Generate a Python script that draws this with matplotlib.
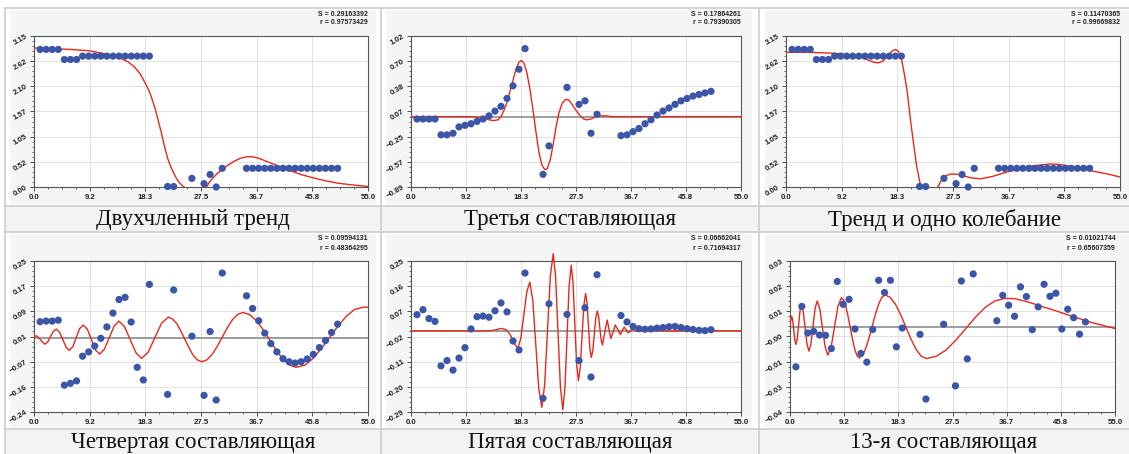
import numpy as np
import matplotlib
matplotlib.use('Agg')
import matplotlib.pyplot as plt
from matplotlib.patches import Rectangle
from matplotlib.lines import Line2D
from matplotlib.ticker import AutoMinorLocator

W, H = 1129, 454

# ---------------- data ----------------
x_obs = [1, 2, 3, 4, 5, 6, 7, 8, 9, 10, 11, 12, 13, 14, 15, 16, 17, 18, 19,
         22, 23, 26, 28, 29, 30, 31,
         35, 36, 37, 38, 39, 40, 41, 42, 43, 44, 45, 46, 47, 48, 49, 50]

trend_y = [2.87, 2.87, 2.87, 2.87, 2.66, 2.66, 2.66,
           2.73, 2.73, 2.73, 2.73, 2.73, 2.73, 2.73, 2.73, 2.73, 2.73, 2.73, 2.73,
           0.01, 0.01, 0.18, 0.07, 0.26, 0.00, 0.39,
           0.39, 0.39, 0.39, 0.39, 0.39, 0.39, 0.39, 0.39, 0.39, 0.39, 0.39, 0.39,
           0.39, 0.39, 0.39, 0.39]

third_y = [-0.03, -0.03, -0.03, -0.03, -0.23, -0.23, -0.21,
           -0.13, -0.11, -0.09, -0.06, -0.03, 0.01, 0.07, 0.13, 0.23, 0.39, 0.60, 0.86,
           -0.73, -0.37, 0.37, 0.155, 0.20, -0.21, 0.03,
           -0.24, -0.23, -0.19, -0.15, -0.09, -0.04, 0.02, 0.07, 0.11, 0.155, 0.20,
           0.23, 0.26, 0.28, 0.30, 0.32]

fourth_y = [0.053, 0.055, 0.055, 0.058, -0.153, -0.147, -0.139,
            -0.059, -0.045, -0.026, -0.001, 0.036, 0.081, 0.125, 0.132, 0.052,
            -0.095, -0.136, 0.174,
            -0.183, 0.156, 0.006, -0.186, 0.021, -0.201, 0.211,
            0.137, 0.096, 0.056, 0.016, -0.018, -0.045, -0.067, -0.077, -0.081,
            -0.077, -0.068, -0.053, -0.031, -0.008, 0.018, 0.045]

fifth_y = [0.058, 0.076, 0.044, 0.034, -0.125, -0.106, -0.140,
           -0.097, -0.060, 0.007, 0.051, 0.053, 0.049, 0.072, 0.100, 0.068,
           -0.036, -0.068, 0.207,
           -0.241, 0.097, 0.059, -0.106, 0.083, -0.165, 0.201,
           0.055, 0.032, 0.016, 0.008, 0.006, 0.007, 0.010, 0.012, 0.015, 0.016,
           0.012, 0.008, 0.005, 0.002, 0.001, 0.004]

thirteenth_y = [-0.0170, 0.0087, -0.0026, -0.0019, -0.0035, -0.0036, -0.0092,
                0.0193, 0.0096, 0.0117, -0.0009, -0.0113, -0.0150, -0.0011,
                0.0198, 0.0146, 0.0198, -0.0085, -0.0005,
                -0.0032, -0.0307, 0.0011, -0.0251, 0.0195, -0.0136, 0.0225,
                0.0026, 0.0134, 0.0092, 0.0045, 0.0170, 0.0129, -0.0012, 0.0085,
                0.0181, 0.0130, 0.0143, -0.0009, 0.0075, 0.0039, -0.0031, 0.0021]

# fitted curves
fit1_x = [0, 6, 9.2, 12, 14, 15.5, 16.5, 17.5, 18.3, 19, 19.5, 20, 20.5, 21, 21.5,
          22, 22.5, 23, 23.5, 24, 24.7, 25.5, 26.5, 27.5, 28.4, 29, 30, 31, 32,
          33, 34, 35, 36, 37, 38, 39, 40, 42, 44, 46, 48, 50, 52, 55]
fit1_y = [2.90, 2.87, 2.84, 2.77, 2.70, 2.61, 2.51, 2.36, 2.17, 1.99, 1.81, 1.61,
          1.36, 1.12, 0.84, 0.60, 0.43, 0.29, 0.17, 0.08, 0.0, -0.10, -0.15,
          -0.10, 0.0, 0.12, 0.26, 0.37, 0.46, 0.54, 0.60, 0.63, 0.63, 0.60,
          0.55, 0.50, 0.45, 0.35, 0.26, 0.19, 0.13, 0.08, 0.05, 0.01]

fit2_x = [0, 10, 11, 12, 13, 13.8, 14.5, 15, 15.5, 16, 16.5, 17, 17.5, 18, 18.4,
          18.8, 19.3, 19.8, 20.3, 20.8, 21.3, 21.8, 22.3, 22.7, 23.2, 23.7, 24.2,
          24.7, 25.2, 25.8, 26.3, 26.8, 27.5, 28.2, 28.8, 29.3, 30, 30.8, 31.5,
          32.5, 33.5, 55]
fit2_y = [0.0, 0.0, -0.005, -0.02, -0.04, -0.05, -0.04, 0.0, 0.08, 0.18, 0.32,
          0.46, 0.60, 0.69, 0.71, 0.68, 0.56, 0.36, 0.10, -0.18, -0.44, -0.61,
          -0.67, -0.66, -0.55, -0.35, -0.12, 0.06, 0.17, 0.22, 0.21, 0.16, 0.08,
          0.01, -0.03, -0.04, -0.03, 0.0, 0.01, 0.01, 0.0, 0.0]

fit3_x = [0, 3, 6, 9, 11, 12.5, 13.5, 14.5, 15.2, 16, 16.8, 17.5, 18, 18.5, 19,
          19.5, 20, 20.5, 21, 21.5, 22, 22.5, 23.5, 24.5, 25, 25.5, 26, 27, 28,
          29, 30.5, 32, 34, 36, 38, 40, 42, 43.5, 45, 47, 49, 51, 53, 55]
fit3_y = [2.81, 2.81, 2.80, 2.78, 2.75, 2.70, 2.65, 2.60, 2.59, 2.63, 2.74, 2.84,
          2.87, 2.83, 2.68, 2.35, 1.95, 1.40, 0.91, 0.45, 0.12, -0.10, -0.25,
          -0.10, 0.0, 0.12, 0.21, 0.27, 0.27, 0.24, 0.19, 0.17, 0.22, 0.30, 0.37,
          0.43, 0.46, 0.48, 0.47, 0.43, 0.37, 0.32, 0.27, 0.21]

fit4_x = [0, 0.5, 1.1, 1.75, 2.24, 2.7, 3.2, 3.7, 4.2, 4.75, 5.3, 5.8, 6.4, 6.95,
          7.5, 8.1, 8.8, 9.45, 10.1, 10.8, 11.6, 12.4, 13.2, 14.0, 14.9, 15.85,
          16.8, 17.7, 18.8, 19.9, 21.0, 22.1, 22.79, 23.5, 24.16, 24.85, 25.54,
          26.2, 26.9, 27.6, 28.45, 29.3, 30.15, 31.0, 31.85, 32.7, 33.55, 34.4,
          35.5, 36.6, 37.7, 38.8, 39.9, 41.0, 42.1, 43.2, 44.6, 45.95, 47.3,
          48.7, 50.1, 51.45, 52.8, 54.2, 55]
fit4_y = [0.006, 0.0066, -0.006, -0.020, -0.013, 0.0045, 0.022, 0.029, 0.019,
          -0.0055, -0.030, -0.040, -0.028, 0.001, 0.030, 0.042, 0.028, -0.005,
          -0.038, -0.052, -0.036, 0.0015, 0.039, 0.055, 0.037, -0.0055, -0.048,
          -0.066, -0.046, 0.001, 0.048, 0.068, 0.062, 0.047, 0.023, -0.0045,
          -0.032, -0.056, -0.071, -0.077, -0.071, -0.054, -0.028, 0.003, 0.034,
          0.060, 0.077, 0.083, 0.076, 0.057, 0.028, -0.006, -0.040, -0.069,
          -0.088, -0.095, -0.088, -0.066, -0.035, 0.0025, 0.040, 0.071, 0.093,
          0.100, 0.100]

fit5_x = [0, 13, 14, 15, 15.8, 16.5, 17.2, 17.8, 18.3, 18.8, 19.3, 19.8, 20.3,
          20.8, 21.3, 21.8, 22.275, 22.75, 23.225, 23.7, 24.1, 24.5, 24.9, 25.3,
          25.65, 26.0, 26.35, 26.7, 27.0, 27.3, 27.6, 27.9, 28.2, 28.5, 28.8,
          29.1, 29.34, 29.575, 29.81, 30.05, 30.3, 30.55, 30.8, 31.05, 31.26,
          31.475, 31.69, 31.9, 32.3, 32.7, 33.0, 33.3, 33.7, 34.05, 34.5, 34.9,
          35.2, 35.55, 35.9, 36.2, 36.55, 36.9, 37.5, 38.5, 55]
fit5_y = [0.0, 0.0, 0.003, 0.009, 0.005, -0.012, -0.045, -0.062, -0.027, 0.056,
          0.140, 0.175, 0.109, -0.049, -0.207, -0.273, -0.193, 0.0015, 0.196,
          0.276, 0.194, -0.003, -0.200, -0.282, -0.206, -0.0235, 0.159, 0.235,
          0.175, 0.0285, -0.117, -0.178, -0.132, -0.022, 0.088, 0.134, 0.100,
          0.0195, -0.061, -0.095, -0.071, -0.012, 0.047, 0.071, 0.053, 0.0105,
          -0.032, -0.050, -0.005, 0.039, 0.006, -0.027, -0.003, 0.021, 0.004,
          -0.013, 0.0, 0.014, 0.003, -0.007, 0.0, 0.006, 0.0, 0.0, 0.0]

fit6_x = [0, 0.28, 0.46, 0.64, 0.82, 1.0, 1.23, 1.46, 1.69, 1.92, 2.24, 2.56,
          2.88, 3.2, 3.55, 3.9, 4.25, 4.6, 5.05, 5.5, 5.95, 6.4, 6.975, 7.55,
          8.125, 8.7, 9.075, 9.45, 9.825, 10.2, 10.575, 10.95, 11.325, 11.7,
          12.25, 12.8, 13.35, 13.9, 14.45, 15.0, 15.55, 16.1, 16.975, 17.85,
          18.725, 19.6, 20.475, 21.35, 22.225, 23.1, 24.76, 26.43, 28.09, 29.75,
          31.41, 33.08, 34.74, 36.4, 38, 40, 42, 45, 48, 51, 55]
fit6_y = [0.001, 0.0046, 0.0028, -0.0015, -0.0057, -0.0075, -0.0050, 0.0009,
          0.0068, 0.0093, 0.0064, -0.0005, -0.0074, -0.0103, -0.0072, 0.0004,
          0.0079, 0.0110, 0.0076, -0.0005, -0.0086, -0.0120, -0.0084, 0.0002,
          0.0088, 0.0124, 0.0114, 0.0087, 0.0045, -0.0004, -0.0053, -0.0095,
          -0.0122, -0.0132, -0.0122, -0.0093, -0.0049, 0.0002, 0.0053, 0.0097,
          0.0126, 0.0136, 0.0125, 0.0096, 0.0052, 0.0, -0.0052, -0.0096,
          -0.0125, -0.0135, -0.0125, -0.0098, -0.0056, -0.0007, 0.0042, 0.0084,
          0.0111, 0.0121, 0.0120, 0.0108, 0.0092, 0.0068, 0.0043, 0.0019, -0.0007]

x_ticklabels = ['0.0', '9.2', '18.3', '27.5', '36.7', '45.8', '55.0']

panels = [
    dict(y=trend_y, fx=fit1_x, fy=fit1_y, ylim=(0.0, 3.15),
         ylabels=['0.00', '0.52', '1.05', '1.57', '2.10', '2.62', '3.15'],
         S='S = 0.29163392', r='r = 0.97573429', title='Двухчленный тренд',
         zero=False, clip=True),
    dict(y=third_y, fx=fit2_x, fy=fit2_y, ylim=(-0.89, 1.02),
         ylabels=['-0.89', '-0.57', '-0.25', '0.07', '0.38', '0.70', '1.02'],
         S='S = 0.17864261', r='r = 0.79390305', title='Третья составляющая',
         zero=True, clip=True),
    dict(y=trend_y, fx=fit3_x, fy=fit3_y, ylim=(0.0, 3.15),
         ylabels=['0.00', '0.52', '1.05', '1.57', '2.10', '2.62', '3.15'],
         S='S = 0.11470365', r='r = 0.99669832', title='Тренд и одно колебание',
         zero=False, clip=True),
    dict(y=fourth_y, fx=fit4_x, fy=fit4_y, ylim=(-0.24, 0.25),
         ylabels=['-0.24', '-0.16', '-0.07', '0.01', '0.09', '0.17', '0.25'],
         S='S = 0.09594131', r='r = 0.48364295', title='Четвертая составляющая',
         zero=True, clip=True),
    dict(y=fifth_y, fx=fit5_x, fy=fit5_y, ylim=(-0.29, 0.25),
         ylabels=['-0.29', '-0.20', '-0.11', '-0.02', '0.07', '0.16', '0.25'],
         S='S = 0.06662041', r='r = 0.71694317', title='Пятая составляющая',
         zero=True, clip=False),
    dict(y=thirteenth_y, fx=fit6_x, fy=fit6_y, ylim=(-0.0362, 0.0280),
         ylabels=['-0.04', '-0.03', '-0.01', '-0.00', '0.01', '0.02', '0.03'],
         S='S = 0.01021744', r='r = 0.65607359', title='13-я составляющая',
         zero=True, clip=True),
]

# ---------------- layout (pixels) ----------------
col_cells = [(5, 381), (381, 759), (759, 1129)]
row_caption = [(206, 232), (429, 454)]
panel_bg_x = [(10, 376), (386, 752), (765, 1129)]
panel_bg_y = [(10, 204), (234, 427)]
axes_x = [[(34, 368), (411, 741), (786, 1120)],
          [(34, 368), (411, 741), (790, 1115)]]
axes_y = [(36, 187), (261, 412)]

BG = '#f4f5f5'
CAP_BG = '#f3f3f3'
BORDER = '#cdcdcd'
DOT = '#3b56a6'
RED = '#e8281e'

fig = plt.figure(figsize=(W / 100, H / 100), dpi=100)
fig.patch.set_facecolor('white')


def frect(x0, y0, x1, y1, color):
    fig.patches.append(Rectangle((x0 / W, 1 - y1 / H), (x1 - x0) / W, (y1 - y0) / H,
                                 transform=fig.transFigure, facecolor=color,
                                 edgecolor='none', zorder=-3))


def fline(xs, ys, color, lw):
    fig.lines.append(Line2D([x / W for x in xs], [1 - y / H for y in ys],
                            transform=fig.transFigure, color=color, lw=lw, zorder=-2))


for (y0, y1) in row_caption:
    frect(5, y0, 1129, y1, CAP_BG)
for (y0, y1) in panel_bg_y:
    for (x0, x1) in panel_bg_x:
        frect(x0, y0, x1, y1, BG)
for yy in [8, 206, 232, 429]:
    fline([5, 1129], [yy, yy], BORDER, 1.2)
for xx in [5, 381, 759]:
    fline([xx, xx], [8, 454], BORDER, 1.2)

for i, p in enumerate(panels):
    r, c = divmod(i, 3)
    x0, x1 = axes_x[r][c]
    y0, y1 = axes_y[r]
    ax = fig.add_axes([x0 / W, 1 - y1 / H, (x1 - x0) / W, (y1 - y0) / H])
    ax.set_facecolor('white')
    ylo, yhi = p['ylim']
    ax.set_xlim(0, 55)
    ax.set_ylim(ylo, yhi)

    ax.set_xticks(np.linspace(0, 55, 7))
    ax.set_xticklabels(x_ticklabels)
    ax.set_yticks(np.linspace(ylo, yhi, 7))
    ax.set_yticklabels([s.replace('-', '\u2212') for s in p['ylabels']])
    ax.xaxis.set_minor_locator(AutoMinorLocator(4))
    ax.yaxis.set_minor_locator(AutoMinorLocator(5))
    ax.grid(True, which='major', color='#e2e2e2', lw=0.7)
    ax.set_axisbelow(True)
    ax.tick_params(which='major', direction='out', length=3, width=0.6,
                   color='#333333', labelsize=5.6, labelcolor='#222222', pad=2)
    ax.tick_params(which='minor', direction='out', length=1.6, width=0.5,
                   color='#333333')
    for lbl in ax.get_xticklabels():
        lbl.set_fontweight('bold')
        lbl.set_family('Liberation Sans')
    for lbl in ax.get_yticklabels():
        lbl.set_fontweight('bold')
        lbl.set_family('Liberation Sans')
        lbl.set_rotation(30)
        lbl.set_ha('right')
        lbl.set_va('center')
        lbl.set_rotation_mode('anchor')
    for s in ax.spines.values():
        s.set_color('#555555')
        s.set_linewidth(0.8)

    if p['zero']:
        ax.axhline(0, color='#8e8e8e', lw=1.2, zorder=2)
    ax.plot(p['fx'], p['fy'], color=RED, lw=1.0, zorder=3, clip_on=p['clip'])
    ax.scatter(x_obs, p['y'], s=27, color=DOT, zorder=4, clip_on=False,
               edgecolors='none')

    fig.text(x1 / W, 1 - (y0 - 22) / H, p['S'], ha='right', va='center',
             fontsize=5, fontweight='bold', family='Liberation Sans', color='#222222')
    fig.text(x1 / W, 1 - (y0 - 13) / H, p['r'], ha='right', va='center',
             fontsize=5, fontweight='bold', family='Liberation Sans', color='#222222')

    cx = (col_cells[c][0] + col_cells[c][1]) / 2
    cy = (row_caption[r][0] + row_caption[r][1]) / 2 + 1
    fig.text(cx / W, 1 - cy / H, p['title'], ha='center', va='center',
             fontsize=16.5, family='Liberation Serif', color='#111111')

fig.savefig('out.png', dpi=100, facecolor='white')
